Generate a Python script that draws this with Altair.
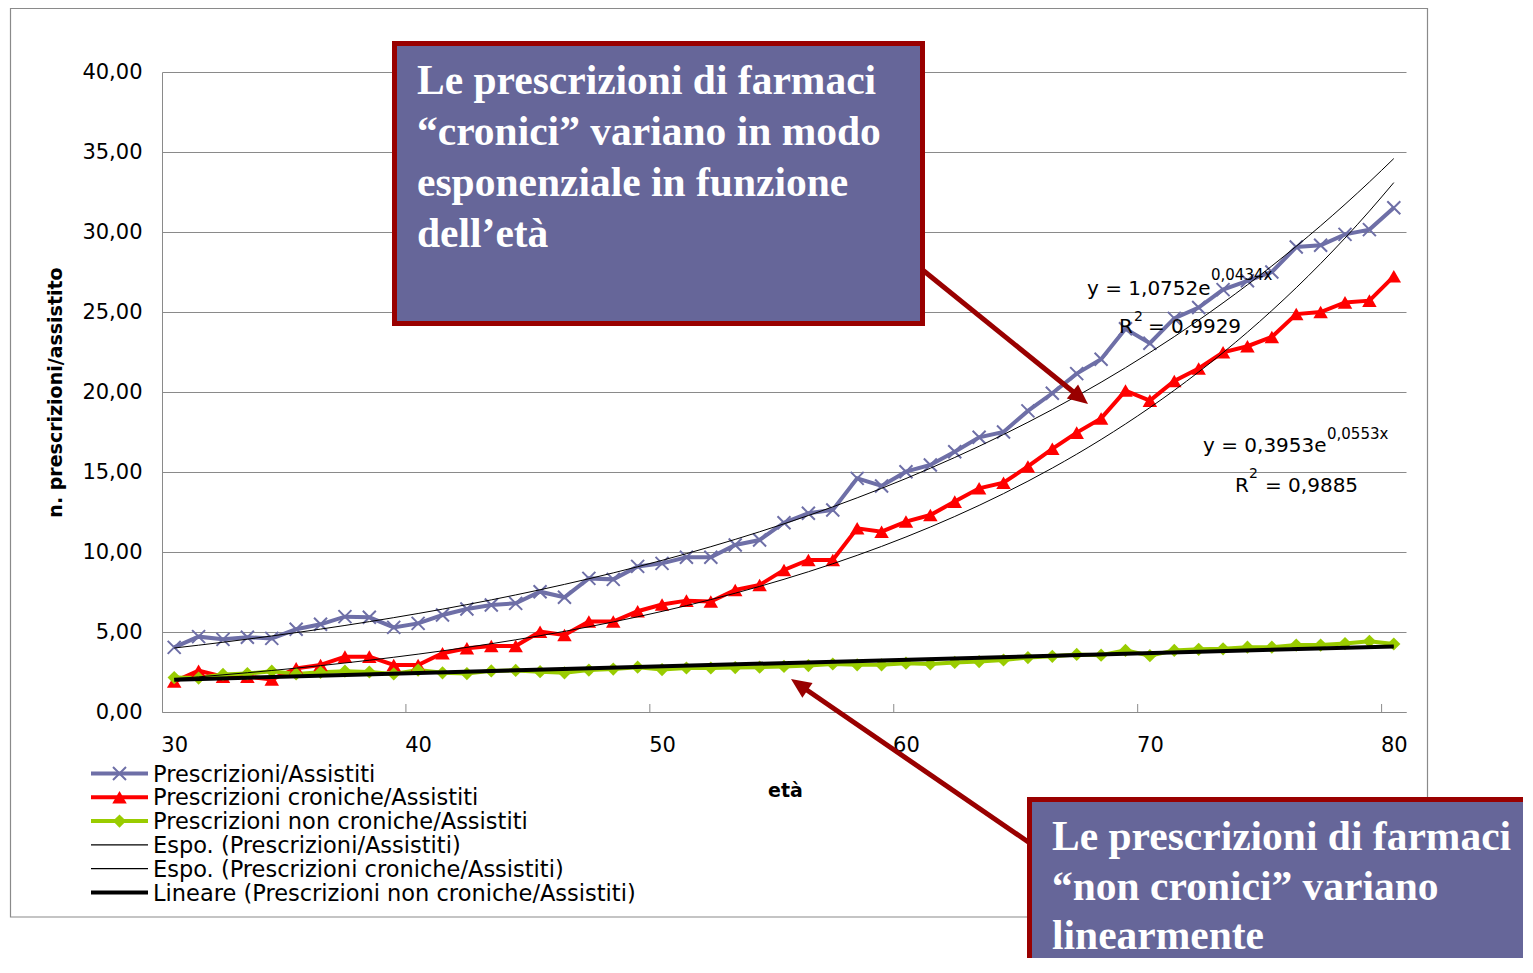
import altair as alt
import pandas as pd

# ---------------- data ----------------
AGES = list(range(30, 81))

TOTALE = [4.04, 4.71, 4.54, 4.67, 4.60, 5.17, 5.48, 5.96, 5.92, 5.29,
          5.54, 6.06, 6.44, 6.69, 6.79, 7.52, 7.17, 8.35, 8.29, 9.10,
          9.29, 9.67, 9.67, 10.44, 10.75, 11.83, 12.42, 12.63, 14.60, 14.13,
          15.02, 15.44, 16.27, 17.17, 17.50, 18.82, 19.92, 21.15, 22.05, 23.95,
          23.05, 24.60, 25.28, 26.40, 26.95, 27.50, 29.06, 29.17, 29.85, 30.15,
          31.52]

CRONICHE = [1.90, 2.58, 2.21, 2.21, 2.04, 2.73, 2.94, 3.46, 3.46, 2.94,
            2.94, 3.67, 3.98, 4.12, 4.12, 5.02, 4.81, 5.65, 5.65, 6.30,
            6.72, 6.96, 6.90, 7.63, 7.94, 8.88, 9.50, 9.50, 11.48, 11.27,
            11.90, 12.31, 13.15, 13.98, 14.33, 15.35, 16.45, 17.46, 18.35, 20.09,
            19.46, 20.69, 21.47, 22.48, 22.86, 23.44, 24.87, 25.00, 25.60, 25.71,
            27.23]

NON_CRONICHE = [2.15, 2.12, 2.35, 2.40, 2.55, 2.38, 2.48, 2.55, 2.50, 2.38,
                2.62, 2.45, 2.40, 2.57, 2.60, 2.52, 2.45, 2.62, 2.68, 2.80,
                2.65, 2.75, 2.75, 2.78, 2.80, 2.85, 2.90, 3.00, 2.95, 2.95,
                3.05, 3.00, 3.10, 3.15, 3.25, 3.40, 3.48, 3.60, 3.55, 3.85,
                3.52, 3.85, 3.92, 3.95, 4.05, 4.05, 4.18, 4.18, 4.28, 4.42,
                4.25]

SERIES = ["Prescrizioni/Assistiti",
          "Prescrizioni croniche/Assistiti",
          "Prescrizioni non croniche/Assistiti"]
TRENDS = ["Espo. (Prescrizioni/Assistiti)",
          "Espo. (Prescrizioni croniche/Assistiti)",
          "Lineare (Prescrizioni non croniche/Assistiti)"]

X_TICKS = [30, 40, 50, 60, 70, 80]
Y_TICKS = [0, 5, 10, 15, 20, 25, 30, 35, 40]

EQ1 = ["y = 1,0752e", "0,0434x", "R", "2", "= 0,9929"]
EQ2 = ["y = 0,3953e", "0,0553x", "R", "2", "= 0,9885"]

BOX1_LINES = ["Le prescrizioni di farmaci", "\u201ccronici\u201d variano in modo",
              "esponenziale in funzione", "dell\u2019et\u00e0"]
BOX2_LINES = ["Le prescrizioni di farmaci", "\u201cnon cronici\u201d variano",
              "linearmente"]

# ---------------- styles ----------------
COLORS = ["#6E6FA7", "#FF0000", "#99CC00"]
GRID = "#8A8A8A"
FONT = "DejaVu Sans"
BOX_FILL = "#666699"
BOX_EDGE = "#990000"
XPATH = "M-1,-1L1,1M-1,1L1,-1"
HEAD = "M0,0L-0.45,1L0.45,1Z"

df = pd.DataFrame({
    "age": AGES * 3,
    "value": TOTALE + CRONICHE + NON_CRONICHE,
    "series": [s for s in SERIES for _ in AGES],
})
ONE = pd.DataFrame({"k": [0]})

xscale = alt.Scale(domain=[29.5, 80.5], nice=False, zero=False)
yscale = alt.Scale(domain=[0, 40], nice=False)

base = alt.Chart(df)

x_axis = alt.Axis(values=X_TICKS, format="d", ticks=False, tickSize=0, grid=False,
                  domainColor=GRID, labelFont=FONT, labelFontSize=21, labelColor="black",
                  labelPadding=22, labelFlush=False,
                  title="et\u00e0", titleFont=FONT, titleFontSize=19, titleFontWeight="bold",
                  titleColor="black", titleX=623, titleY=78, titleBaseline="middle",
                  titleAlign="center")
y_axis = alt.Axis(values=Y_TICKS, labelExpr="replace(format(datum.value, '.2f'), '.', ',')",
                  ticks=False, tickSize=0, grid=True, gridColor=GRID, gridWidth=1,
                  domainColor=GRID, labelFont=FONT, labelFontSize=21, labelColor="black",
                  labelPadding=20,
                  title="n. prescrizioni/assistito", titleFont=FONT, titleFontSize=19,
                  titleFontWeight="bold", titleColor="black", titleX=-107, titleY=320,
                  titleAngle=270, titleAlign="center", titleBaseline="middle")


def X(field):
    return alt.X(field, scale=xscale, axis=x_axis)


def Y(field):
    return alt.Y(field, scale=yscale, axis=y_axis)


color = alt.Color("series:N", scale=alt.Scale(domain=SERIES, range=COLORS), legend=None)

layers = []

# series lines (carry the axes)
layers.append(base.mark_line(strokeWidth=4).encode(
    x=X("age:Q"), y=Y("value:Q"), color=color))

# chart area border
layers.append(alt.Chart(ONE).mark_rect(fill="transparent", stroke=GRID, strokeWidth=1.2).encode(
    x=alt.value(-151.5), x2=alt.value(1265.5), y=alt.value(-63.5), y2=alt.value(845)))

# category tick marks between categories
layers.append(alt.Chart(pd.DataFrame({"age": X_TICKS[1:]})).transform_calculate(
    xt="datum.age - 0.5").mark_rule(color=GRID, strokeWidth=1).encode(
    x=X("xt:Q"), y=alt.value(632), y2=alt.value(640)))

# markers
marker_specs = [
    (SERIES[0], XPATH, False, 2, 169),
    (SERIES[1], "triangle-up", True, 0, 210),
    (SERIES[2], "diamond", True, 0, 175),
]
for s, shp, filled, sw, size in marker_specs:
    c = COLORS[SERIES.index(s)]
    layers.append(base.transform_filter(alt.datum.series == s).mark_point(
        shape=shp, filled=filled, color=c, strokeWidth=sw if sw else 1, size=size,
        opacity=1).encode(x=X("age:Q"), y=Y("value:Q")))

# exponential trends (least squares on ln y, as the spreadsheet does)
exp_trend = base.transform_filter(
    alt.FieldOneOfPredicate(field="series", oneOf=SERIES[:2])
).transform_calculate(
    lny="log(datum.value)"
).transform_joinaggregate(
    mx="mean(age)", ml="mean(lny)", groupby=["series"]
).transform_calculate(
    sxl="(datum.age - datum.mx) * (datum.lny - datum.ml)",
    sxx="(datum.age - datum.mx) * (datum.age - datum.mx)"
).transform_joinaggregate(
    Sxl="sum(sxl)", Sxx="sum(sxx)", groupby=["series"]
).transform_calculate(
    fit="exp(datum.ml + datum.Sxl / datum.Sxx * (datum.age - datum.mx))"
).mark_line(color="black", strokeWidth=1, interpolate="monotone").encode(
    x=X("age:Q"), y=Y("fit:Q"), detail="series:N")
layers.append(exp_trend)

# linear trend
lin_trend = base.transform_filter(alt.datum.series == SERIES[2]).transform_regression(
    "age", "value", method="linear", extent=[30, 80]
).mark_line(color="black", strokeWidth=4).encode(x=X("age:Q"), y=Y("value:Q"))
layers.append(lin_trend)


def txt(s, x, y, size, align="left", baseline="alphabetic", font=FONT, weight="normal",
        color="black", line_height=None):
    kw = dict(align=align, baseline=baseline, font=font, fontSize=size, fontWeight=weight,
              color=color)
    if line_height:
        kw["lineHeight"] = line_height
    return alt.Chart(ONE).mark_text(**kw).encode(
        x=alt.value(x), y=alt.value(y), text=alt.value(s))


# trend equations
layers += [
    txt(EQ1[0], 925, 223, 20), txt(EQ1[1], 1049, 208, 15),
    txt(EQ1[2], 957, 261, 20), txt(EQ1[3], 972, 249, 14), txt(EQ1[4], 986, 261, 20),
    txt(EQ2[0], 1041, 380, 20), txt(EQ2[1], 1165, 367, 15),
    txt(EQ2[2], 1073, 420, 20), txt(EQ2[3], 1087, 406, 14), txt(EQ2[4], 1103, 420, 20),
]

# legend
legend_items = [
    (SERIES[0], COLORS[0], 4, (XPATH, False, 169)),
    (SERIES[1], COLORS[1], 4, ("triangle-up", True, 210)),
    (SERIES[2], COLORS[2], 4, ("diamond", True, 175)),
    (TRENDS[0], "black", 1.2, None),
    (TRENDS[1], "black", 1.2, None),
    (TRENDS[2], "black", 4, None),
]
for i, (label, c, w, mk) in enumerate(legend_items):
    yy = 701.5 + 23.8 * i
    layers.append(alt.Chart(ONE).mark_rule(color=c, strokeWidth=w).encode(
        x=alt.value(-71), x2=alt.value(-14), y=alt.value(yy)))
    if mk:
        shp, filled, size = mk
        layers.append(alt.Chart(ONE).mark_point(shape=shp, filled=filled, color=c,
                                                strokeWidth=2 if not filled else 1,
                                                size=size, opacity=1).encode(
            x=alt.value(-42.5), y=alt.value(yy)))
    layers.append(txt(label, -9, yy + 1, 22.5, baseline="middle"))

# arrows
layers += [
    alt.Chart(ONE).mark_rule(color=BOX_EDGE, strokeWidth=5).encode(
        x=alt.value(752), y=alt.value(191), x2=alt.value(917), y2=alt.value(324.5)),
    alt.Chart(ONE).mark_point(shape=HEAD, filled=True, color=BOX_EDGE, size=1600,
                              angle=128.9, opacity=1).encode(
        x=alt.value(926), y=alt.value(332)),
    alt.Chart(ONE).mark_rule(color=BOX_EDGE, strokeWidth=5).encode(
        x=alt.value(875), y=alt.value(776), x2=alt.value(639), y2=alt.value(614)),
    alt.Chart(ONE).mark_point(shape=HEAD, filled=True, color=BOX_EDGE, size=1600,
                              angle=304.6, opacity=1).encode(
        x=alt.value(629), y=alt.value(607)),
]

# annotation boxes
layers += [
    alt.Chart(ONE).mark_rect(fill=BOX_FILL, stroke=BOX_EDGE, strokeWidth=5).encode(
        x=alt.value(232.5), x2=alt.value(760.5), y=alt.value(-28.5), y2=alt.value(251.5)),
    txt(BOX1_LINES, 255, 22, 41.5, font="Liberation Serif", weight="bold", color="white",
        line_height=51),
    alt.Chart(ONE).mark_rect(fill=BOX_FILL, stroke=BOX_EDGE, strokeWidth=5).encode(
        x=alt.value(867.5), x2=alt.value(1400), y=alt.value(727.5), y2=alt.value(920)),
    txt(BOX2_LINES, 890, 778, 41.5, font="Liberation Serif", weight="bold", color="white",
        line_height=49.5),
]

chart = alt.layer(*layers).properties(
    width=1244, height=640,
    background="white",
    autosize=alt.AutoSizeParams(type="none"),
    padding={"left": 154, "top": 64, "right": 117, "bottom": 246},
).configure_view(stroke="transparent", strokeWidth=0)

chart.save("out.html", embed_options={"renderer": "svg", "actions": False})
